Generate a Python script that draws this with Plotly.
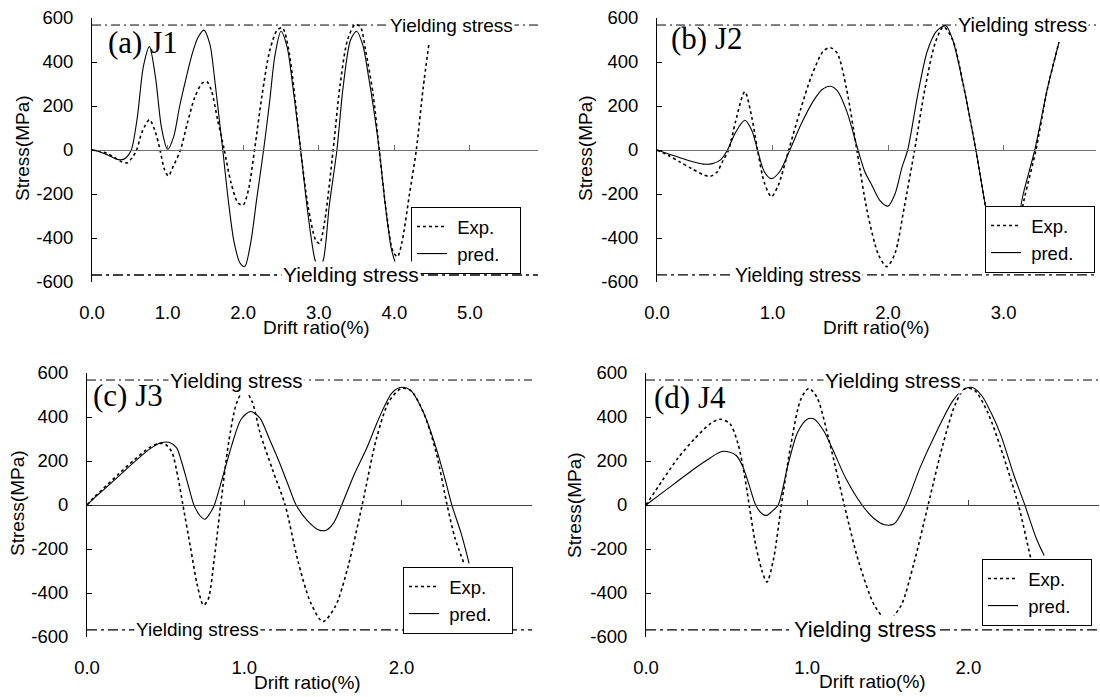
import plotly.graph_objects as go

# ---------------- data ----------------
J1_EXP_X = [0.00, 0.10, 0.20, 0.30, 0.40, 0.47, 0.53, 0.59, 0.66, 0.76, 0.84, 0.90, 0.96, 1.01, 1.08, 1.17,
            1.26, 1.36, 1.46, 1.52, 1.58, 1.66, 1.75, 1.84, 1.93, 2.00, 2.07, 2.15, 2.25, 2.35, 2.45, 2.52,
            2.60, 2.68, 2.76, 2.86, 2.96, 3.01, 3.08, 3.19, 3.28, 3.38, 3.48, 3.55, 3.62, 3.72, 3.80, 3.90,
            3.98, 4.04, 4.10, 4.20, 4.29, 4.38, 4.46]
J1_EXP_Y = [0, -5, -15, -35, -55, -58, -35, 0, 80, 138, 80, 0, -90, -118, -70, 0,
            120, 240, 305, 310, 270, 140, 0, -150, -240, -250, -180, 0, 250, 450, 545, 555,
            460, 250, 0, -260, -410, -425, -320, 0, 290, 500, 570, 560, 450, 250, 0, -300,
            -460, -485, -420, -200, 0, 280, 490]
J1_PRED_X = [0.00, 0.10, 0.20, 0.30, 0.38, 0.45, 0.52, 0.60, 0.68, 0.76, 0.84, 0.92, 1.00, 1.08, 1.16, 1.24,
             1.32, 1.40, 1.48, 1.56, 1.62, 1.68, 1.73, 1.80, 1.88, 1.96, 2.02, 2.10, 2.18, 2.27, 2.35, 2.42,
             2.50, 2.58, 2.66, 2.76, 2.86, 2.95, 3.00, 3.06, 3.14, 3.24, 3.32, 3.42, 3.50, 3.58, 3.66, 3.72,
             3.80, 3.88, 3.96, 4.01]
J1_PRED_Y = [0, -8, -22, -38, -45, -35, 0, 150, 380, 470, 330, 100, 2, 60, 200, 320,
             430, 510, 545, 480, 330, 150, 0, -220, -420, -515, -530, -420, -220, 0, 220, 430,
             540, 470, 280, 0, -300, -500, -540, -500, -250, 0, 280, 500, 540, 480, 330, 200,
             0, -250, -450, -510]

J2_EXP_X = [0.00, 0.10, 0.20, 0.30, 0.40, 0.46, 0.52, 0.57, 0.62, 0.68, 0.76, 0.82, 0.87, 0.93, 0.99, 1.05,
            1.14, 1.24, 1.34, 1.44, 1.50, 1.56, 1.64, 1.73, 1.82, 1.92, 1.99, 2.06, 2.14, 2.23, 2.32, 2.41,
            2.48, 2.56, 2.65, 2.76, 2.86, 2.96, 3.02, 3.08, 3.18, 3.28, 3.38, 3.48]
J2_EXP_Y = [0, -25, -55, -85, -112, -120, -100, -50, 0, 130, 265, 150, 0, -150, -212, -160,
            0, 180, 340, 450, 465, 440, 280, 0, -280, -480, -530, -470, -260, 0, 280, 490,
            560, 500, 300, 0, -300, -500, -530, -470, -220, 0, 280, 490]
J2_PRED_X = [0.00, 0.10, 0.20, 0.30, 0.40, 0.48, 0.55, 0.61, 0.68, 0.76, 0.82, 0.87, 0.93, 0.99, 1.06, 1.15,
             1.25, 1.35, 1.43, 1.50, 1.56, 1.64, 1.74, 1.80, 1.86, 1.93, 2.00, 2.06, 2.12, 2.17, 2.26, 2.34,
             2.42, 2.50, 2.56, 2.65, 2.76, 2.86, 2.95, 3.01, 3.07, 3.17, 3.27, 3.38, 3.48]
J2_PRED_Y = [0, -18, -35, -52, -64, -62, -45, 0, 80, 135, 90, 0, -100, -130, -100, 0,
             120, 220, 275, 290, 270, 180, 0, -100, -160, -230, -255, -200, -80, 0, 260, 450,
             540, 565, 500, 300, 0, -300, -490, -530, -470, -200, 0, 280, 490]

J3_EXP_X = [0.00, 0.05, 0.10, 0.20, 0.30, 0.40, 0.46, 0.50, 0.54, 0.58, 0.61, 0.66, 0.70, 0.74, 0.77, 0.81,
            0.85, 0.90, 0.95, 1.00, 1.05, 1.10, 1.18, 1.26, 1.34, 1.42, 1.50, 1.58, 1.66, 1.75, 1.84, 1.92,
            2.00, 2.06, 2.14, 2.22, 2.29, 2.34, 2.40]
J3_EXP_Y = [0, 38, 72, 140, 205, 262, 280, 275, 240, 120, 0, -200, -360, -455, -430, -240,
            0, 280, 460, 525, 470, 330, 160, 0, -250, -440, -530, -460, -280, 0, 300, 470,
            530, 520, 420, 240, 0, -150, -270]
J3_PRED_X = [0.00, 0.05, 0.10, 0.20, 0.30, 0.40, 0.47, 0.52, 0.57, 0.60, 0.64, 0.68, 0.72, 0.75, 0.78, 0.81,
             0.86, 0.92, 0.98, 1.04, 1.10, 1.16, 1.22, 1.28, 1.33, 1.40, 1.47, 1.52, 1.57, 1.62, 1.70, 1.78,
             1.86, 1.94, 2.00, 2.06, 2.14, 2.22, 2.28, 2.32, 2.38, 2.43]
J3_PRED_Y = [0, 35, 65, 130, 195, 255, 283, 285, 260, 200, 100, 0, -50, -65, -40, 0,
             120, 270, 390, 425, 395, 300, 200, 90, 0, -70, -112, -115, -80, 0, 140, 260,
             400, 510, 535, 520, 420, 260, 110, 0, -130, -265]

J4_EXP_X = [0.00, 0.10, 0.20, 0.30, 0.40, 0.46, 0.52, 0.57, 0.61, 0.64, 0.68, 0.72, 0.75, 0.79, 0.84, 0.90,
            0.96, 1.01, 1.06, 1.14, 1.23, 1.32, 1.42, 1.50, 1.58, 1.66, 1.75, 1.84, 1.92, 1.98, 2.04, 2.12,
            2.20, 2.31, 2.40, 2.50]
J4_EXP_Y = [0, 110, 215, 300, 370, 390, 370, 280, 140, 0, -180, -300, -350, -250, 0, 280,
            480, 530, 490, 280, 0, -260, -460, -525, -460, -270, 0, 270, 460, 530, 520, 420,
            260, 0, -280, -515]
J4_PRED_X = [0.00, 0.10, 0.20, 0.30, 0.40, 0.47, 0.52, 0.56, 0.60, 0.64, 0.68, 0.72, 0.75, 0.78, 0.82, 0.88,
             0.94, 1.00, 1.04, 1.10, 1.16, 1.24, 1.34, 1.42, 1.48, 1.54, 1.61, 1.70, 1.80, 1.90, 1.96, 2.02,
             2.08, 2.14, 2.20, 2.28, 2.35, 2.42, 2.47]
J4_PRED_Y = [0, 55, 110, 165, 215, 243, 240, 225, 175, 90, 0, -40, -47, -30, 0, 180,
             330, 390, 392, 340, 250, 120, 0, -65, -90, -85, 0, 170, 330, 470, 520, 535,
             500, 420, 320, 140, 0, -150, -230]

YIELD = 568
PANEL_LABELS = ["(a) J1", "(b) J2", "(c) J3", "(d) J4"]
SERIES_NAMES = ["Exp.", "pred."]
Y_TICKS = [-600, -400, -200, 0, 200, 400, 600]
Y_TICK_TEXT = ["-600", "-400", "-200", "0", "200", "400", "600"]
X_TICKS = [[0, 1, 2, 3, 4, 5], [0, 1, 2, 3], [0, 1, 2], [0, 1, 2]]
X_TICK_TEXT = [["0.0", "1.0", "2.0", "3.0", "4.0", "5.0"], ["0.0", "1.0", "2.0", "3.0"],
               ["0.0", "1.0", "2.0"], ["0.0", "1.0", "2.0"]]
X_MAX = [5.9, 3.8, 2.83, 2.81]
X_TITLE = "Drift ratio(%)"
Y_TITLE = "Stress(MPa)"
YIELD_TEXT = "Yielding stress"

DATA = [
    (J1_EXP_X, J1_EXP_Y, J1_PRED_X, J1_PRED_Y),
    (J2_EXP_X, J2_EXP_Y, J2_PRED_X, J2_PRED_Y),
    (J3_EXP_X, J3_EXP_Y, J3_PRED_X, J3_PRED_Y),
    (J4_EXP_X, J4_EXP_Y, J4_PRED_X, J4_PRED_Y),
]

# ---------------- layout geometry (pixels) ----------------
W, H = 1100, 697
SANS = "Liberation Sans, Arial, sans-serif"
SERIF = "Liberation Serif, Times New Roman, serif"
NB = "\u00a0"


def fx(p):
    return p / W


def fy(p):
    return 1 - p / H


PLOT_BOX = [((92, 538), (18, 282)), ((657, 1096), (18, 282)),
            ((87, 532), (373, 637)), ((646, 1099), (373, 637))]
LEGEND_POS = [(411, 203), (985, 202), (403, 563), (982, 555)]
LABEL_POS = [(106, 43), (669, 39), (91, 395), (652, 397)]
XTITLE_POS = [(316, 327), (876, 327), (307, 682), (872, 681)]
YTITLE_POS = [(22, 148), (585, 148), (17, 503), (575, 505)]
# (x of top label, font size), (x of bottom label, font size)
YIELD_LABELS = [((4.76, 19), (3.42, 21)), ((3.16, 20), (1.22, 19.5)),
                ((0.95, 20.5), (0.70, 19)), ((1.53, 21), (1.36, 22))]
ZERO_COLORS = ["#707070", "#707070", "#404040", "#404040"]

fig = go.Figure()
layout = dict(
    width=W, height=H, margin=dict(l=0, r=0, t=0, b=0, autoexpand=False),
    paper_bgcolor="white", plot_bgcolor="white",
    font=dict(family=SANS, color="black", size=18),
    showlegend=True, shapes=[], annotations=[],
)

for i in range(4):
    n = i + 1
    xid = "x" if n == 1 else f"x{n}"
    yid = "y" if n == 1 else f"y{n}"
    xkey = "xaxis" if n == 1 else f"xaxis{n}"
    ykey = "yaxis" if n == 1 else f"yaxis{n}"
    lgkey = "legend" if n == 1 else f"legend{n}"
    (x0p, x1p), (ytp, ybp) = PLOT_BOX[i]
    xdom = [fx(x0p), fx(x1p)]
    ydom = [fy(ybp), fy(ytp)]

    ex, ey, px_, py_ = DATA[i]
    fig.add_trace(go.Scatter(x=ex, y=ey, name=NB + SERIES_NAMES[0] + NB * 3, mode="lines",
                             line=dict(color="black", width=1.6, dash="dot", shape="spline", smoothing=0.8),
                             xaxis=xid, yaxis=yid, legend=lgkey, hoverinfo="skip"))
    fig.add_trace(go.Scatter(x=px_, y=py_, name=NB + SERIES_NAMES[1] + NB * 3, mode="lines",
                             line=dict(color="black", width=1.1, shape="spline", smoothing=0.8),
                             xaxis=xid, yaxis=yid, legend=lgkey, hoverinfo="skip"))
    # dummy trace to host the zero-line axis
    fig.add_trace(go.Scatter(x=[None], y=[None], xaxis=f"x{n + 4}", yaxis=yid,
                             showlegend=False, hoverinfo="skip"))

    layout[xkey] = dict(domain=xdom, range=[0, X_MAX[i]], anchor=yid, automargin=False,
                        tickvals=X_TICKS[i], ticktext=X_TICK_TEXT[i], ticks="",
                        showline=False, showgrid=False, zeroline=False,
                        ticklabelstandoff=17, tickfont=dict(size=18.5, family=SANS))
    layout[ykey] = dict(domain=ydom, range=[-600, 600], anchor=xid, automargin=False,
                        tickvals=Y_TICKS, ticktext=Y_TICK_TEXT, ticks="inside", ticklen=5,
                        tickcolor="black", showline=True, linecolor="black", linewidth=1,
                        showgrid=False, zeroline=False, ticklabelstandoff=14,
                        tickfont=dict(size=18.5, family=SANS))
    layout[f"xaxis{n + 4}"] = dict(domain=xdom, range=[0, X_MAX[i]], overlaying=xid, automargin=False,
                                   anchor="free", position=(ydom[0] + ydom[1]) / 2,
                                   side="bottom", tickvals=X_TICKS[i], ticks="inside", ticklen=5,
                                   tickcolor=ZERO_COLORS[i], showticklabels=False, showline=True,
                                   linecolor=ZERO_COLORS[i], linewidth=1.4 if i < 2 else 1,
                                   showgrid=False, zeroline=False)

    lx, ly = LEGEND_POS[i]
    layout[lgkey] = dict(x=fx(lx), y=fy(ly + 4), xanchor="left", yanchor="top",
                         bgcolor="white", bordercolor="black", borderwidth=1,
                         font=dict(size=18.5, family=SANS), tracegroupgap=0,
                         itemwidth=30)

    # yielding stress lines
    for sgn, width, dash in [(1, 1, "9px,4px,2px,4px"), (-1, 1.6 if i == 0 else 1.2, "10px,4px,3px,4px")]:
        layout["shapes"].append(dict(type="line", xref=f"{xid} domain", yref=yid,
                                     x0=0, x1=1, y0=sgn * YIELD, y1=sgn * YIELD,
                                     line=dict(color="black", width=width, dash=dash), layer="above"))
    (tx, tfs), (bx, bfs) = YIELD_LABELS[i]
    for xv, yv, fs in [(tx, YIELD, tfs), (bx, -YIELD, bfs)]:
        layout["annotations"].append(dict(x=xv, y=yv, xref=xid, yref=yid, text=YIELD_TEXT,
                                          showarrow=False, bgcolor="white", borderpad=1,
                                          font=dict(size=fs, family=SANS), xanchor="center",
                                          yanchor="middle"))
    # panel label
    lbx, lby = LABEL_POS[i]
    layout["annotations"].append(dict(x=fx(lbx), y=fy(lby), xref="paper", yref="paper",
                                      text=PANEL_LABELS[i], showarrow=False, xanchor="left",
                                      yanchor="middle", font=dict(size=31, family=SERIF)))
    # axis titles
    tx_, ty_ = XTITLE_POS[i]
    layout["annotations"].append(dict(x=fx(tx_), y=fy(ty_), xref="paper", yref="paper",
                                      text=X_TITLE, showarrow=False, xanchor="center",
                                      yanchor="middle", font=dict(size=19, family=SANS)))
    vx, vy = YTITLE_POS[i]
    layout["annotations"].append(dict(x=fx(vx), y=fy(vy), xref="paper", yref="paper",
                                      text=Y_TITLE, showarrow=False, textangle=-90,
                                      xanchor="center", yanchor="middle",
                                      font=dict(size=19, family=SANS)))

fig.update_layout(**layout)
fig.write_html("out.html", config={"displayModeBar": False, "staticPlot": True},
               post_script="document.body.style.margin='0px';document.body.style.overflow='hidden';")
